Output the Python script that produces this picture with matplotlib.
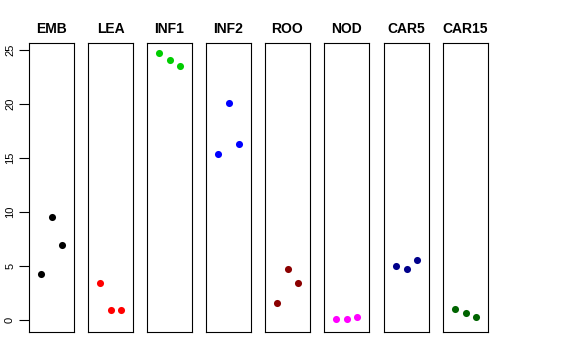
import numpy as np
import matplotlib
matplotlib.use("Agg")
import matplotlib.pyplot as plt

plt.rcParams['font.family'] = ['Liberation Sans', 'DejaVu Sans']

tissues = ['EMB', 'LEA', 'INF1', 'INF2', 'ROO', 'NOD', 'CAR5', 'CAR15']
colors = ['black', 'red', '#00CD00', 'blue', '#8B0000', 'magenta', '#00008B', '#006400']
reps = [1, 2, 3]
values = [
    [4.32, 9.57, 6.94],
    [3.45, 0.93, 0.93],
    [24.66, 24.07, 23.45],
    [15.37, 20.06, 16.30],
    [1.57, 4.72, 3.43],
    [0.15, 0.15, 0.31],
    [5.00, 4.78, 5.56],
    [1.02, 0.65, 0.28],
]

W, H = 576, 360
fig = plt.figure(figsize=(W / 100, H / 100), dpi=100)

lefts = [29, 88, 147, 206, 265, 324, 384, 443]
pw = 45
top, bottom = 43, 332

for i, name in enumerate(tissues):
    ax = fig.add_axes([lefts[i] / W, 1 - bottom / H, pw / W, (bottom - top) / H])
    ax.scatter(reps, values[i], s=26, color=colors[i], zorder=3, linewidths=0)
    ax.set_xlim(-0.2, 4.2)
    ax.set_ylim(-1.08, 25.62)
    ax.set_xticks([])
    for sp in ax.spines.values():
        sp.set_linewidth(0.8)
        sp.set_color('black')
    ax.set_title(name, fontsize=10, fontweight='bold', pad=7)
    if i == 0:
        ax.set_yticks([0, 5, 10, 15, 20, 25])
        ax.tick_params(axis='y', length=7, width=0.8, labelsize=8, pad=3)
        for lab in ax.get_yticklabels():
            lab.set_rotation(90)
            lab.set_va('center')
    else:
        ax.set_yticks([])

fig.savefig('out.png', dpi=100)
